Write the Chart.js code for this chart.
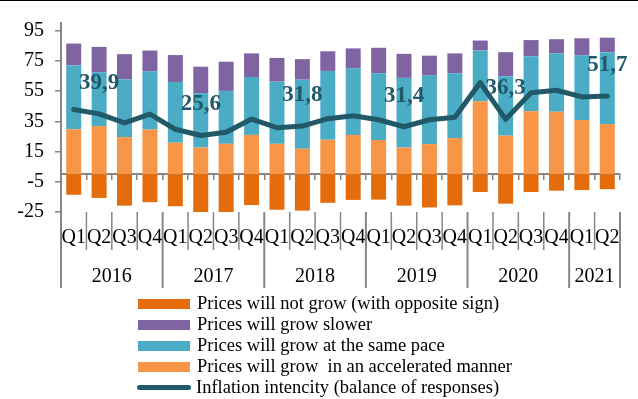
<!DOCTYPE html>
<html><head><meta charset="utf-8">
<script src="https://cdn.jsdelivr.net/npm/chart.js@4.4.1/dist/chart.umd.min.js"></script>
<style>
html,body{margin:0;padding:0;background:#fff;}
#wrap{position:relative;width:638px;height:399px;}
#topline{position:absolute;left:0;top:0;width:638px;height:1px;background:#000;}
#legend{position:absolute;left:137px;top:293px;font-family:'Liberation Serif','Times New Roman',serif;font-size:18.5px;color:#000;}
.row{height:21px;display:flex;align-items:center;white-space:pre;}
.sw{width:52px;height:10px;margin:0 7px 0 1px;flex:none;}
.ln{width:54px;height:5px;border-radius:3px;margin:0 5px 0 0;flex:none;}
</style></head>
<body><div id="wrap"><canvas id="c" width="638" height="399"></canvas><div id="topline"></div><div id="legend"></div></div>
<script>
const quarterLabels = ['Q1','Q2','Q3','Q4','Q1','Q2','Q3','Q4','Q1','Q2','Q3','Q4','Q1','Q2','Q3','Q4','Q1','Q2','Q3','Q4','Q1','Q2'];
const years = ['2016','2017','2018','2019','2020','2021'];
const quartersPerYear = [4,4,4,4,4,2];
const yTicks = [-25,-5,15,35,55,75,95];

const notGrow     = [-13.6,-15.7,-20.8,-18.5,-21.2,-26.7,-25.8,-20.4,-23.5,-24.1,-18.9,-17.0,-16.8,-20.8,-22.0,-20.6,-11.8,-19.5,-11.8,-10.9,-10.5,-9.9];
const accelerated = [29.7,31.8,24.5,29.5,20.8,17.6,20.1,26.0,20.1,16.8,22.8,26.0,22.6,17.6,19.9,23.9,48.2,25.5,41.7,41.3,35.8,33.1];
const samePace    = [42.4,35.7,38.2,38.6,40.2,36.0,35.0,38.3,41.1,45.7,45.5,44.0,44.1,46.1,45.3,42.8,33.6,39.3,36.3,38.6,42.8,47.6];
const slower      = [14.3,16.7,16.7,13.7,17.8,17.5,19.3,15.6,15.7,13.6,13.0,13.2,16.9,15.9,13.2,13.2,6.6,15.9,10.7,9.4,11.3,9.6];
const intensity   = [42.8,39.9,34.0,39.8,29.7,25.6,27.7,36.5,30.8,31.8,36.7,38.6,36.0,31.4,36.0,37.7,60.6,36.3,53.8,55.5,51.1,51.7];
const labeledPoints = [1,5,9,13,17,21];

const names = {
  notGrow: 'Prices will not grow (with opposite sign)',
  slower: 'Prices will grow slower',
  same: 'Prices will grow at the same pace',
  accel: 'Prices will grow  in an accelerated manner',
  line: 'Inflation intencity (balance of responses)'
};
const colors = {notGrow:'#E46C0A', slower:'#8064A2', same:'#4BACC6', accel:'#F79646', line:'#215968'};

const FONT = "'Liberation Serif','Times New Roman',serif";

const decor = {
  id: 'decor',
  afterDatasetsDraw(chart) {
    const {ctx} = chart;
    const meta = chart.getDatasetMeta(4);
    ctx.save();
    ctx.fillStyle = '#215968';
    ctx.font = 'bold 23px ' + FONT;
    ctx.textAlign = 'center';
    ctx.textBaseline = 'middle';
    labeledPoints.forEach(i => {
      const pt = meta.data[i];
      ctx.fillText(intensity[i].toFixed(1).replace('.', ','), pt.x, pt.y - 31);
    });
    ctx.restore();
  },
  afterDraw(chart) {
    const {ctx, chartArea} = chart;
    const x = chart.scales.x;
    const step = x.getPixelForValue(1) - x.getPixelForValue(0);
    const edge = i => x.getPixelForValue(i) - step / 2;
    const yearStarts = new Set();
    let idx = 0;
    quartersPerYear.forEach(n => { yearStarts.add(idx); idx += n; });
    yearStarts.add(idx);
    ctx.save();
    ctx.strokeStyle = '#868686';
    for (let i = 0; i <= quarterLabels.length; i++) {
      const isYear = yearStarts.has(i);
      const px = i === 0 ? chartArea.left : edge(i);
      ctx.lineWidth = isYear ? 2 : 1.5;
      ctx.beginPath();
      ctx.moveTo(px, chartArea.bottom);
      ctx.lineTo(px, chartArea.bottom + (isYear ? 76 : 38));
      ctx.stroke();
    }
    ctx.fillStyle = '#000';
    ctx.font = '20px ' + FONT;
    ctx.textAlign = 'center';
    ctx.textBaseline = 'middle';
    idx = 0;
    years.forEach((yr, k) => {
      const n = quartersPerYear[k];
      ctx.fillText(yr, (edge(idx) + edge(idx + n)) / 2, chartArea.bottom + 65);
      idx += n;
    });
    ctx.restore();
  }
};

const barCommon = {type: 'bar', barPercentage: 0.59, categoryPercentage: 1, order: 1, stack: 'bars'};

new Chart(document.getElementById('c'), {
  data: {
    labels: quarterLabels,
    datasets: [
      {...barCommon, label: names.notGrow, data: notGrow, backgroundColor: colors.notGrow},
      {...barCommon, label: names.accel, data: accelerated, backgroundColor: colors.accel},
      {...barCommon, label: names.same, data: samePace, backgroundColor: colors.same},
      {...barCommon, label: names.slower, data: slower, backgroundColor: colors.slower},
      {type: 'line', label: names.line, data: intensity, borderColor: colors.line, borderWidth: 5,
       pointRadius: 0, tension: 0, order: 0, stack: 'line', borderCapStyle: 'round', borderJoinStyle: 'round'}
    ]
  },
  options: {
    responsive: false,
    devicePixelRatio: 1,
    animation: false,
    layout: {padding: {top: 14, right: 18, left: 0, bottom: 0}},
    plugins: {legend: {display: false}, tooltip: {enabled: false}},
    scales: {
      x: {
        type: 'category',
        offset: true,
        grid: {display: false, drawTicks: false},
        border: {display: false},
        ticks: {font: {family: FONT, size: 20}, color: '#000', padding: 14, maxRotation: 0, minRotation: 0, autoSkip: false},
        afterFit: s => { s.height = 187; }
      },
      x2: {
        type: 'category',
        labels: quarterLabels,
        position: {y: 0},
        offset: true,
        grid: {offset: true, drawOnChartArea: false, drawTicks: true, tickLength: 5, color: '#868686', lineWidth: 1.5},
        border: {display: true, color: '#868686', width: 2},
        ticks: {display: false}
      },
      y: {
        type: 'linear',
        stacked: true,
        min: -25,
        max: 100,
        afterBuildTicks: s => { s.ticks = yTicks.map(v => ({value: v})); },
        grid: {drawOnChartArea: false, drawTicks: true, tickLength: 6, color: '#868686', lineWidth: 1.5},
        border: {display: true, color: '#868686', width: 2},
        ticks: {font: {family: FONT, size: 20}, color: '#000', padding: 11},
        afterFit: s => { s.width = 61; }
      }
    }
  },
  plugins: [decor]
});

const legendEl = document.getElementById('legend');
[['notGrow','bar'],['slower','bar'],['same','bar'],['accel','bar'],['line','line']].forEach(([k, t]) => {
  const row = document.createElement('div');
  row.className = 'row';
  const sw = document.createElement('span');
  sw.className = t === 'bar' ? 'sw' : 'ln';
  sw.style.background = colors[k];
  const tx = document.createElement('span');
  tx.textContent = names[k];
  row.appendChild(sw); row.appendChild(tx);
  legendEl.appendChild(row);
});
</script>
</body></html>
